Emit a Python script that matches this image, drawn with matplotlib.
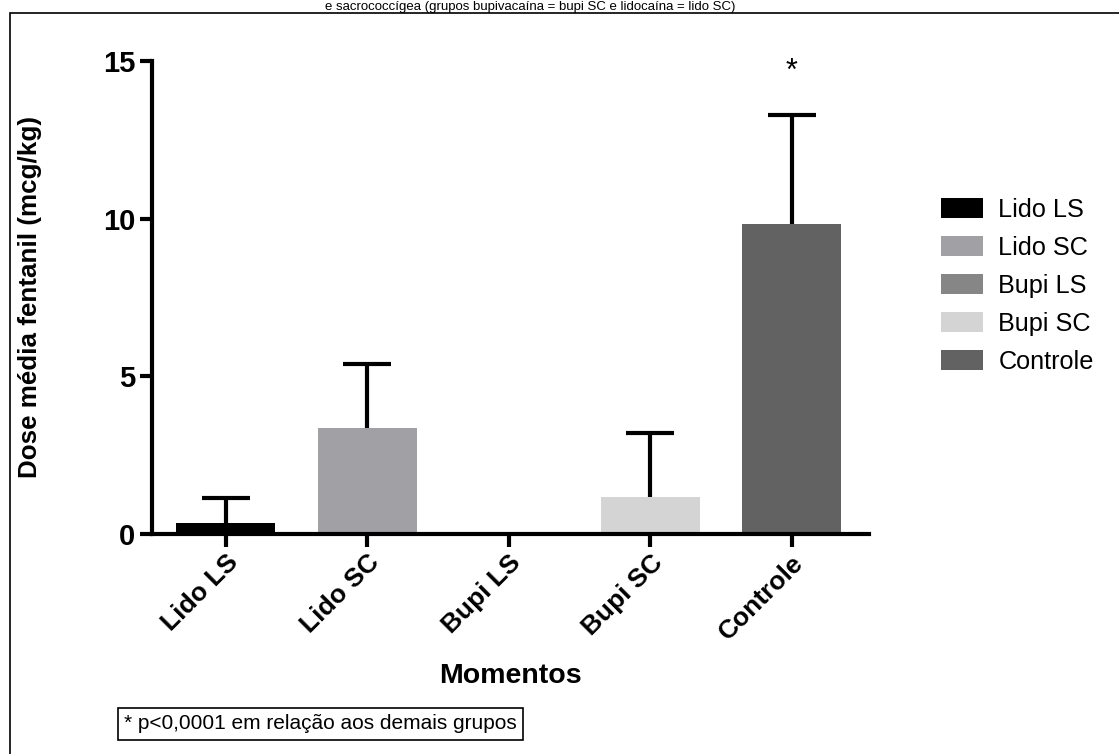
import matplotlib
matplotlib.use("Agg")
import matplotlib.pyplot as plt
from matplotlib.patches import Rectangle, Patch
import numpy as np

plt.rcParams['font.family'] = ['Liberation Sans', 'DejaVu Sans']

groups = ['Lido LS', 'Lido SC', 'Bupi LS', 'Bupi SC', 'Controle']
means = np.array([0.35, 3.35, 0.0, 1.18, 9.83])
sd_up = np.array([0.78, 2.05, 0.0, 2.02, 3.47])
colors = ['#000000', '#a1a0a5', '#868686', '#d4d4d4', '#626262']

fig = plt.figure(figsize=(11.19, 7.54), dpi=100)
ax = fig.add_axes([0.136, 0.292, 0.641, 0.627])

x = np.arange(len(groups))
ax.bar(x, means, width=0.7, color=colors, linewidth=0, zorder=2)
# upper whiskers only
has_err = sd_up > 0
ax.vlines(x[has_err], means[has_err], (means + sd_up)[has_err],
          colors='black', linewidth=3, zorder=3)
ax.hlines((means + sd_up)[has_err], x[has_err] - 0.17, x[has_err] + 0.17,
          colors='black', linewidth=3, zorder=3)
ax.text(4, 14.65, '*', ha='center', va='center', fontsize=22)

ax.set_xlim(-0.52, 4.55)
ax.set_ylim(0, 15)
ax.set_yticks([0, 5, 10, 15])
ax.set_xticks(x)
ax.set_xticklabels(groups, rotation=45, ha='right', rotation_mode='anchor',
                   fontsize=19, fontweight='bold')
for lab in ax.get_yticklabels():
    lab.set_fontsize(21)
    lab.set_fontweight('bold')
ax.tick_params(width=3, length=9, pad=3)
ax.spines['top'].set_visible(False)
ax.spines['right'].set_visible(False)
ax.spines['left'].set_linewidth(3)
ax.spines['bottom'].set_linewidth(3)
ax.set_ylabel('Dose média fentanil (mcg/kg)', fontsize=18.7, fontweight='bold')
ax.yaxis.set_label_coords(-0.153, 0.5)
ax.set_xlabel('Momentos', fontsize=20.5, fontweight='bold')
ax.xaxis.set_label_coords(0.5, -0.273)

handles = [Patch(facecolor=c, label=g) for g, c in zip(groups, colors)]
fig.legend(handles=handles, loc='center left', bbox_to_anchor=(0.821, 0.621),
           frameon=False, fontsize=18.2, handlelength=1.65, handleheight=0.86,
           labelspacing=0.55, handletextpad=0.6)

# outer frame
fig.patches.append(Rectangle((0.009, -0.01), 1.2, 0.993, transform=fig.transFigure,
                             fill=False, edgecolor='black', linewidth=1.2))
# caption at top (continuation of a figure title)
fig.text(0.474, 0.999, 'e sacrococcígea (grupos bupivacaína = bupi SC e lidocaína = lido SC)',
         ha='center', va='top', fontsize=9.5)
# footnote box
fig.text(0.111, 0.04, '* p<0,0001 em relação aos demais grupos', ha='left',
         va='center', fontsize=15,
         bbox=dict(boxstyle='square,pad=0.3', facecolor='white',
                   edgecolor='black', linewidth=1.2))

fig.savefig('out.png', dpi=100)
